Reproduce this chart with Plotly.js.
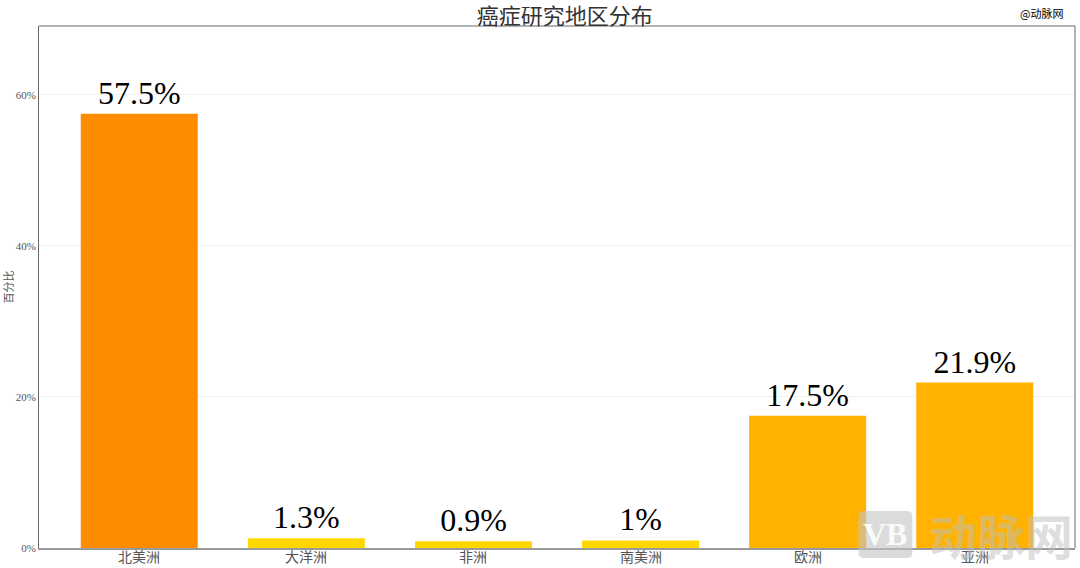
<!DOCTYPE html>
<html>
<head>
<meta charset="utf-8">
<script src="https://cdn.plot.ly/plotly-3.0.1.min.js"></script>
<style>html,body{margin:0;padding:0;background:#fff;}#chart{width:1080px;height:568px;}</style>
</head>
<body>
<div id="chart"></div>
<script>
const categories = ['北美洲', '大洋洲', '非洲', '南美洲', '欧洲', '亚洲'];
const values = [57.5, 1.3, 0.9, 1, 17.5, 21.9];
const barColors = ['#FF8C00', '#FFD700', '#FFD700', '#FFD700', '#FFB300', '#FFB300'];
const yTickVals = [0, 20, 40, 60];
const yTickText = ['0%', '20%', '40%', '60%'];

const serif = 'Liberation Serif, Times New Roman, Noto Sans CJK SC, serif';
const cjk = 'Noto Sans CJK SC, sans-serif';

const trace = {
  type: 'bar',
  x: categories,
  y: values,
  marker: { color: barColors },
  width: 0.7,
  text: values.map(v => v + '%'),
  textposition: 'outside',
  textfont: { family: serif, size: 32, color: '#000' },
  cliponaxis: false,
  hoverinfo: 'none'
};

const catLabels = categories.map(c => ({
  text: c, x: c, xref: 'x', y: 0, yref: 'paper', yanchor: 'top', yshift: 4,
  showarrow: false, font: { family: cjk, size: 14, color: '#555' }
}));

const layout = {
  width: 1080, height: 568,
  margin: { l: 39, r: 5, t: 26, b: 20 },
  paper_bgcolor: '#fff', plot_bgcolor: '#fff',
  showlegend: false,
  title: { text: '癌症研究地区分布', x: 0.523, xanchor: 'center', y: 0.972, yanchor: 'middle',
           font: { family: cjk, size: 22, color: '#333' } },
  xaxis: {
    range: [-0.6, 5.6],
    showline: true, linecolor: '#999', linewidth: 2,
    showgrid: false, ticks: '', showticklabels: false
  },
  yaxis: {
    range: [0, 69.1],
    tickvals: yTickVals, ticktext: yTickText,
    showgrid: true, gridcolor: '#f0f0f0', gridwidth: 1,
    showline: true, linecolor: '#666', linewidth: 1,
    zeroline: false, ticks: '',
    tickfont: { family: serif, size: 11, color: '#555' },
    title: { text: '百分比', font: { family: cjk, size: 11, color: '#555' }, standoff: 6 }
  },
  shapes: [
    { type: 'line', xref: 'paper', yref: 'paper', x0: 0, x1: 1, y0: 1, y1: 1, line: { color: '#666', width: 1 } },
    { type: 'line', xref: 'paper', yref: 'paper', x0: 1, x1: 1, y0: 0, y1: 1, line: { color: '#666', width: 1 } },
    { type: 'path', xref: 'paper', yref: 'paper', layer: 'above',
      path: 'M 0.7910 0.0288 L 0.7910 0.0615 Q 0.7910 0.0711 0.7968 0.0711 L 0.8372 0.0711 Q 0.8430 0.0711 0.8430 0.0615 L 0.8430 -0.0096 Q 0.8430 -0.0192 0.8372 -0.0192 L 0.7968 -0.0192 Q 0.7910 -0.0192 0.7910 -0.0096 Z',
      fillcolor: 'rgba(195,195,195,0.6)', line: { width: 0 } }
  ],
  annotations: catLabels.concat([
    { text: '@动脉网', xref: 'paper', yref: 'paper', x: 0.99, y: 1.005, xanchor: 'right', yanchor: 'bottom',
      showarrow: false, font: { family: cjk, size: 11, color: '#000' } },
    { text: '<b>VB</b>', xref: 'paper', yref: 'paper', x: 0.817, y: 0.026, xanchor: 'center', yanchor: 'middle',
      showarrow: false, font: { family: serif, size: 32, color: 'rgba(255,255,255,0.9)' } },
    { text: '<b>动脉网</b>', xref: 'paper', yref: 'paper', x: 1.0, y: 0.026, xanchor: 'right', yanchor: 'middle',
      showarrow: false, font: { family: cjk, size: 48, color: 'rgba(190,190,190,0.5)' } }
  ])
};

Plotly.newPlot('chart', [trace], layout, { displayModeBar: false, staticPlot: true });
</script>
</body>
</html>
